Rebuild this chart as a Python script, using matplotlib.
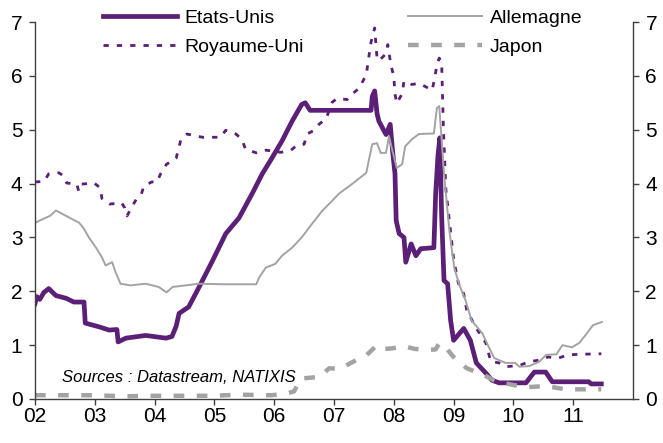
import matplotlib
matplotlib.use("Agg")
import matplotlib.pyplot as plt

plt.rcParams['font.family'] = ['Liberation Sans', 'DejaVu Sans']

# ---- data ----
us_t = [2002.00, 2002.03, 2002.08, 2002.15, 2002.23, 2002.35, 2002.52, 2002.65, 2002.82, 2002.84,
        2003.07, 2003.24, 2003.37, 2003.39, 2003.52, 2003.85, 2004.19, 2004.29, 2004.36, 2004.41,
        2004.57, 2004.74, 2004.80, 2004.97, 2005.19, 2005.41, 2005.63, 2005.80, 2005.96, 2006.13,
        2006.30, 2006.46, 2006.52, 2006.60, 2006.70, 2007.62, 2007.64, 2007.68, 2007.72, 2007.75,
        2007.87, 2007.94, 2007.98, 2008.02, 2008.04, 2008.09, 2008.17, 2008.20, 2008.29, 2008.37,
        2008.45, 2008.67, 2008.70, 2008.74, 2008.77, 2008.80, 2008.84, 2008.90, 2008.95, 2009.00,
        2009.17, 2009.28, 2009.38, 2009.54, 2009.64, 2009.76, 2010.21, 2010.35, 2010.54, 2010.65,
        2011.26, 2011.30, 2011.47]
us_v = [1.77, 1.90, 1.85, 1.98, 2.05, 1.92, 1.87, 1.80, 1.80, 1.41,
        1.34, 1.28, 1.29, 1.06, 1.13, 1.18, 1.13, 1.16, 1.35, 1.59,
        1.71, 2.07, 2.20, 2.57, 3.07, 3.36, 3.81, 4.18, 4.47, 4.79,
        5.16, 5.47, 5.50, 5.36, 5.36, 5.36, 5.62, 5.72, 5.30, 5.16,
        4.91, 5.10, 4.60, 4.18, 3.31, 3.07, 3.00, 2.54, 2.88, 2.66,
        2.79, 2.81, 3.81, 4.54, 4.85, 3.40, 2.20, 2.14, 1.46, 1.09,
        1.31, 1.09, 0.67, 0.48, 0.35, 0.30, 0.30, 0.50, 0.50, 0.32,
        0.32, 0.28, 0.28]

uk_t = [2002.00, 2002.15, 2002.23, 2002.40, 2002.48, 2002.53, 2002.70, 2002.73, 2002.78, 2002.99,
        2003.09, 2003.12, 2003.25, 2003.45, 2003.50, 2003.54, 2003.60, 2003.70, 2003.78, 2003.82,
        2003.95, 2004.04, 2004.10, 2004.20, 2004.30, 2004.36, 2004.40, 2004.44, 2004.54, 2004.80,
        2005.10, 2005.19, 2005.36, 2005.46, 2005.52, 2005.70, 2005.86, 2006.00, 2006.11, 2006.28,
        2006.38, 2006.50, 2006.55, 2006.67, 2006.75, 2006.87, 2006.97, 2007.05, 2007.22, 2007.30,
        2007.42, 2007.54, 2007.59, 2007.62, 2007.68, 2007.72, 2007.75, 2007.87, 2007.90, 2007.95,
        2008.00, 2008.02, 2008.05, 2008.14, 2008.17, 2008.30, 2008.42, 2008.53, 2008.64, 2008.69,
        2008.72, 2008.76, 2008.80, 2008.83, 2008.87, 2008.92, 2009.00, 2009.08, 2009.17, 2009.22,
        2009.37, 2009.54, 2009.62, 2009.76, 2009.87, 2010.10, 2010.25, 2010.42, 2010.58, 2010.75,
        2010.92, 2011.10, 2011.47]
uk_v = [4.03, 4.04, 4.18, 4.20, 4.14, 4.01, 3.99, 3.86, 3.99, 4.01,
        3.92, 3.72, 3.62, 3.64, 3.55, 3.40, 3.53, 3.72, 3.81, 3.95,
        4.03, 4.03, 4.18, 4.36, 4.42, 4.47, 4.64, 4.82, 4.92, 4.86,
        4.86, 4.99, 4.92, 4.82, 4.64, 4.57, 4.62, 4.60, 4.58, 4.62,
        4.71, 4.73, 4.92, 4.99, 5.10, 5.21, 5.51, 5.58, 5.56, 5.66,
        5.77, 6.02, 6.41, 6.63, 6.89, 6.32, 6.28, 6.41, 6.58, 6.21,
        5.99, 5.66, 5.49, 5.67, 5.90, 5.84, 5.86, 5.80, 5.73, 5.99,
        6.21, 6.33, 6.25, 5.00, 3.90, 3.40, 2.60, 2.15, 1.95, 1.65,
        1.33, 1.04, 0.70, 0.67, 0.60, 0.62, 0.69, 0.72, 0.78, 0.76,
        0.82, 0.83, 0.84]

de_t = [2002.00, 2002.13, 2002.25, 2002.35, 2002.52, 2002.74, 2002.82, 2002.90, 2003.02, 2003.12,
        2003.18, 2003.29, 2003.35, 2003.43, 2003.60, 2003.85, 2004.07, 2004.20, 2004.30, 2004.52,
        2004.74, 2005.19, 2005.70, 2005.75, 2005.86, 2006.02, 2006.13, 2006.30, 2006.46, 2006.63,
        2006.80, 2006.97, 2007.08, 2007.30, 2007.54, 2007.58, 2007.64, 2007.72, 2007.78, 2007.87,
        2007.92, 2007.97, 2008.05, 2008.14, 2008.19, 2008.30, 2008.42, 2008.67, 2008.72, 2008.76,
        2008.84, 2008.93, 2009.01, 2009.09, 2009.20, 2009.30, 2009.48, 2009.59, 2009.68, 2009.87,
        2010.03, 2010.10, 2010.26, 2010.43, 2010.55, 2010.72, 2010.82, 2010.98, 2011.10, 2011.23,
        2011.33, 2011.48]
de_v = [3.27, 3.34, 3.40, 3.50, 3.40, 3.27, 3.16, 3.00, 2.81, 2.63,
        2.48, 2.54, 2.35, 2.14, 2.11, 2.14, 2.08, 1.98, 2.08, 2.11,
        2.14, 2.13, 2.13, 2.26, 2.44, 2.51, 2.66, 2.81, 3.00, 3.25,
        3.49, 3.68, 3.81, 3.99, 4.20, 4.42, 4.73, 4.75, 4.57, 4.57,
        4.88, 4.64, 4.29, 4.36, 4.69, 4.82, 4.92, 4.93, 5.40, 5.44,
        4.18, 3.12, 2.44, 2.14, 1.83, 1.46, 1.22, 0.96, 0.76, 0.67,
        0.67, 0.60, 0.61, 0.69, 0.82, 0.83, 1.00, 0.96, 1.04, 1.22,
        1.37, 1.43]

jp_t = [2002.00, 2002.50, 2003.00, 2003.50, 2004.00, 2004.66, 2005.00, 2005.40, 2005.96, 2006.20,
        2006.33, 2006.45, 2006.75, 2006.92, 2007.10, 2007.30, 2007.55, 2007.72, 2007.85, 2007.97,
        2008.17, 2008.35, 2008.54, 2008.70, 2008.76, 2008.88, 2009.00, 2009.22, 2009.50, 2009.72,
        2010.00, 2010.22, 2010.55, 2010.87, 2011.30, 2011.47]
jp_v = [0.07, 0.07, 0.07, 0.05, 0.06, 0.06, 0.06, 0.08, 0.07, 0.10,
        0.14, 0.38, 0.41, 0.57, 0.56, 0.68, 0.82, 1.00, 0.93, 0.94,
        0.98, 0.93, 0.91, 0.92, 1.04, 0.94, 0.78, 0.57, 0.45, 0.32,
        0.26, 0.22, 0.24, 0.18, 0.18, 0.18]

year_ticks = [2002, 2003, 2004, 2005, 2006, 2007, 2008, 2009, 2010, 2011]
year_labels = ['02', '03', '04', '05', '06', '07', '08', '09', '10', '11']
y_ticks = [0, 1, 2, 3, 4, 5, 6, 7]

purple = '#5b1f78'
grey = '#a3a3a3'

fig = plt.figure(figsize=(6.63, 4.43), dpi=100)
ax = fig.add_axes([35 / 663, 44 / 443, 598 / 663, 377 / 443])

l_us, = ax.plot(us_t, us_v, color=purple, lw=3.4, solid_joinstyle='round', label='Etats-Unis')
l_uk, = ax.plot(uk_t, uk_v, color=purple, lw=2.0, dashes=(1.9, 2.9), label='Royaume-Uni')
l_de, = ax.plot(de_t, de_v, color=grey, lw=1.4, label='Allemagne')
l_jp, = ax.plot(jp_t, jp_v, color=grey, lw=3.2, dashes=(2.4, 2.8), label='Japon')

ax.set_xlim(2002, 2012)
ax.set_ylim(0, 7)
ax.set_xticks(year_ticks)
ax.set_xticklabels(year_labels)
ax.set_yticks(y_ticks)

for s in ['left', 'right', 'bottom']:
    ax.spines[s].set_color('#404040')
    ax.spines[s].set_linewidth(1.0)
ax.spines['top'].set_visible(False)

ax.tick_params(axis='y', left=True, right=True, labelleft=True, labelright=True,
               direction='out', length=4, width=1, color='#404040', pad=5, labelsize=15)
ax.tick_params(axis='x', direction='out', length=4, width=1, color='#404040', pad=2, labelsize=15)

leg = ax.legend(handles=[l_us, l_uk, l_de, l_jp], ncol=2, loc='upper left',
                bbox_to_anchor=(103 / 663, 1 - 9 / 443), bbox_transform=fig.transFigure,
                frameon=False, borderpad=0, borderaxespad=0, handlelength=3.8,
                handletextpad=0.4, columnspacing=5.35, labelspacing=0.58, fontsize=14)

fig.text(62 / 663, 1 - 378 / 443, 'Sources : Datastream, NATIXIS', style='italic',
         fontsize=12, va='center', ha='left')

fig.savefig('out.png', dpi=100)
